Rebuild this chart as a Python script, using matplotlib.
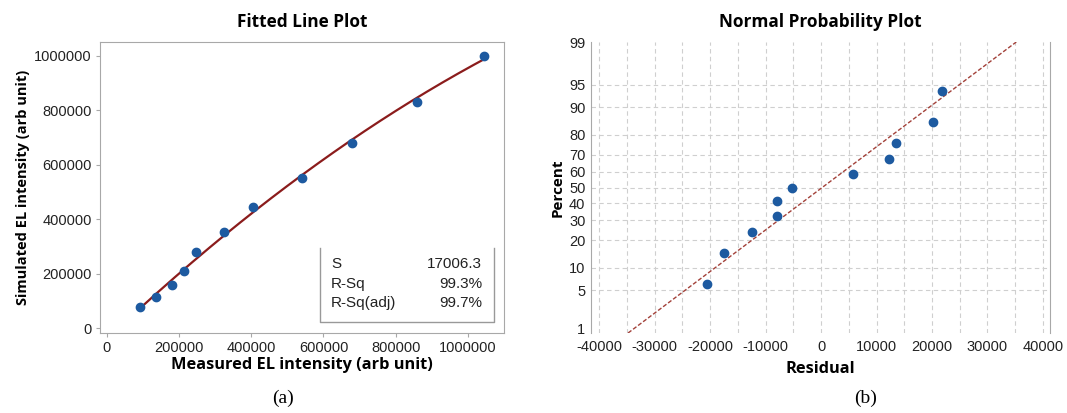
import matplotlib
matplotlib.use("Agg")
import matplotlib.pyplot as plt
import matplotlib.transforms as mtransforms
import numpy as np
from statistics import NormalDist

plt.rcParams['axes.unicode_minus'] = False

# fitted line plot data
measured = [92000, 137000, 180000, 213000, 248000, 325000, 404000, 541000, 678000, 860000, 1044000]
simulated = [77000, 113000, 158000, 211000, 278000, 352000, 446000, 553000, 681000, 832000, 1000000]
stat_names = ["S", "R-Sq", "R-Sq(adj)"]
stat_values = ["17006.3", "99.3%", "99.7%"]

# normal probability plot data
residuals = [-20600, -17600, -12400, -7900, -7900, -5200, 5800, 12200, 13500, 20200, 21900]
percents = [6.1, 14.9, 23.7, 32.5, 41.2, 50.0, 58.8, 67.5, 76.3, 85.1, 93.9]
resid_mu = 200
resid_sigma = 15050
pct_ticks = [1, 5, 10, 20, 30, 40, 50, 60, 70, 80, 90, 95, 99]
resid_ticks = [-40000, -30000, -20000, -10000, 0, 10000, 20000, 30000, 40000]

nd = NormalDist()
def z(p):
    return np.array([nd.inv_cdf(v / 100.0) for v in np.atleast_1d(p)])

blue = "#1d5aa0"
tickfont = "Liberation Sans"
boldfont = "Open Sans"

fig = plt.figure(figsize=(10.67, 4.13), dpi=100)

# ---- (a) fitted line plot
ax1 = fig.add_axes([0.0937, 0.1937, 0.3787, 0.7046])
coef = np.polyfit(measured, simulated, 2)
xs = np.linspace(min(measured), max(measured), 200)
ax1.plot(xs, np.polyval(coef, xs), color="#8b1c1c", lw=1.6, zorder=2)
ax1.plot(measured, simulated, "o", color=blue, ms=6, zorder=3)
ax1.set_xlim(-19000, 1100000)
ax1.set_ylim(-18000, 1051000)
ax1.set_xticks([0, 200000, 400000, 600000, 800000, 1000000])
ax1.set_yticks([0, 200000, 400000, 600000, 800000, 1000000])
ax1.ticklabel_format(style="plain")
for sp in ax1.spines.values():
    sp.set_color("#a8a8a8")
ax1.tick_params(length=3, color="#a8a8a8", labelsize=10.5, pad=3)
for lab in ax1.get_xticklabels() + ax1.get_yticklabels():
    lab.set_fontfamily(tickfont)
    lab.set_color("#222222")
ax1.set_title("Fitted Line Plot", fontfamily=boldfont, fontweight="bold", fontsize=12.4, pad=11)
ax1.set_xlabel("Measured EL intensity (arb unit)", fontfamily=boldfont, fontweight="bold", fontsize=11.8, labelpad=1)
ax1.set_ylabel("Simulated EL intensity (arb unit)", fontfamily=boldfont, fontweight="bold", fontsize=10.5, labelpad=3)

bx0, bx1, by0, by1 = 0.545, 0.975, 0.038, 0.292
ax1.plot([bx0, bx0, bx1, bx1], [by1, by0, by0, by1], transform=ax1.transAxes,
         color="#999999", lw=1, clip_on=False)
for i, (nm, val) in enumerate(zip(stat_names, stat_values)):
    yy = 0.237 - i * 0.067
    ax1.text(0.572, yy, nm, transform=ax1.transAxes, fontfamily=tickfont, fontsize=11,
             va="center", ha="left", color="#222222")
    ax1.text(0.946, yy, val, transform=ax1.transAxes, fontfamily=tickfont, fontsize=11,
             va="center", ha="right", color="#222222")

fig.text(0.265, 0.035, "(a)", fontfamily="Liberation Serif", fontsize=14, ha="center", va="center")

# ---- (b) normal probability plot
ax2 = fig.add_axes([0.5539, 0.1937, 0.4302, 0.7046])
ax2.set_xlim(-41500, 41300)
ax2.set_ylim(z(1)[0], z(99)[0])
for gx in np.arange(-40000, 40001, 5000):
    ax2.axvline(gx, color="#cfcfcf", lw=0.8, ls=(0, (4, 3)), zorder=0)
for p in pct_ticks[1:-1]:
    ax2.axhline(z(p)[0], color="#cfcfcf", lw=0.8, ls=(0, (4, 3)), zorder=0)
line_p = np.array([1, 99])
line_x = resid_mu + resid_sigma * z(line_p)
ax2.plot(line_x, z(line_p), color="#a3413a", lw=1, ls=(0, (3, 1.5)), zorder=2)
ax2.plot(residuals, z(percents), "o", color=blue, ms=6, zorder=3)
ax2.set_yticks(z(pct_ticks))
ax2.set_yticklabels([str(p) for p in pct_ticks])
ax2.set_xticks(resid_ticks)
ax2.set_xticklabels([str(t) for t in resid_ticks])
ax2.spines["top"].set_visible(False)
ax2.spines["bottom"].set_visible(False)
ax2.spines["left"].set_color("#a8a8a8")
ax2.spines["right"].set_color("#a8a8a8")
ax2.tick_params(length=0, labelsize=10.5, pad=4)
ax2.tick_params(axis="x", pad=5)
for lab in ax2.get_xticklabels() + ax2.get_yticklabels():
    lab.set_fontfamily(tickfont)
    lab.set_color("#222222")
# lift the lowest percent label a little so it clears the residual labels
low = ax2.get_yticklabels()[0]
low.set_transform(low.get_transform() + mtransforms.ScaledTranslation(0, 3 / 72, fig.dpi_scale_trans))
ax2.set_title("Normal Probability Plot", fontfamily=boldfont, fontweight="bold", fontsize=12.4, pad=11)
ax2.set_xlabel("Residual", fontfamily=boldfont, fontweight="bold", fontsize=11.8, labelpad=5)
ax2.set_ylabel("Percent", fontfamily=boldfont, fontweight="bold", fontsize=11, labelpad=3)

fig.text(0.811, 0.035, "(b)", fontfamily="Liberation Serif", fontsize=14, ha="center", va="center")

fig.savefig("out.png", dpi=100)
